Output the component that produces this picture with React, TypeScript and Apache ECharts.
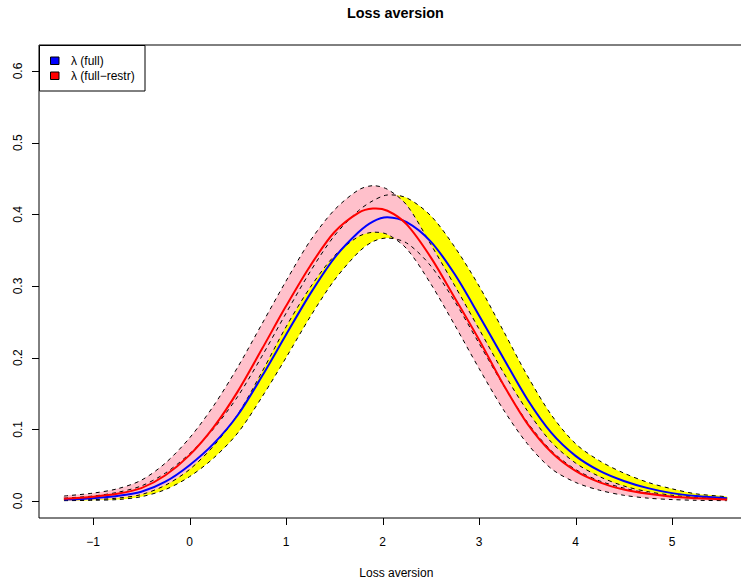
import { useEffect, useRef } from "react";
import * as echarts from "echarts";

// Common x grid (Loss aversion)
const X = [-1.3, -1.0, -0.75, -0.5, -0.25, 0, 0.25, 0.5, 0.75, 1.0, 1.25, 1.5, 1.75, 1.9, 2.05, 2.25, 2.5, 2.75, 3.0, 3.25, 3.5, 3.75, 4.0, 4.25, 4.5, 4.75, 5.0, 5.25, 5.57];

// λ (full) density and its band
const FULL = [0.002, 0.004, 0.007, 0.013, 0.027, 0.050, 0.080, 0.120, 0.174, 0.232, 0.289, 0.339, 0.375, 0.390, 0.396, 0.389, 0.362, 0.316, 0.259, 0.200, 0.142, 0.095, 0.063, 0.042, 0.028, 0.018, 0.011, 0.007, 0.004];
const FULL_UPPER = [0.004, 0.007, 0.012, 0.021, 0.039, 0.066, 0.101, 0.146, 0.202, 0.262, 0.320, 0.370, 0.405, 0.419, 0.427, 0.423, 0.398, 0.354, 0.300, 0.238, 0.175, 0.120, 0.080, 0.056, 0.039, 0.026, 0.017, 0.010, 0.006];
const FULL_LOWER = [0.0005, 0.001, 0.002, 0.006, 0.016, 0.034, 0.060, 0.095, 0.145, 0.200, 0.257, 0.308, 0.347, 0.362, 0.367, 0.360, 0.328, 0.278, 0.220, 0.162, 0.110, 0.070, 0.044, 0.028, 0.018, 0.011, 0.006, 0.004, 0.002];

// λ (full−restr) density and its band
const RESTR = [0.003, 0.006, 0.010, 0.018, 0.036, 0.064, 0.103, 0.153, 0.212, 0.272, 0.328, 0.375, 0.402, 0.408, 0.405, 0.386, 0.340, 0.283, 0.225, 0.163, 0.108, 0.068, 0.042, 0.026, 0.016, 0.010, 0.006, 0.004, 0.002];
const RESTR_UPPER = [0.007, 0.011, 0.017, 0.029, 0.053, 0.088, 0.133, 0.187, 0.247, 0.307, 0.363, 0.406, 0.434, 0.440, 0.435, 0.413, 0.358, 0.300, 0.240, 0.180, 0.126, 0.082, 0.053, 0.034, 0.021, 0.013, 0.008, 0.005, 0.003];
const RESTR_LOWER = [0.001, 0.002, 0.004, 0.009, 0.022, 0.044, 0.077, 0.121, 0.180, 0.243, 0.298, 0.342, 0.369, 0.375, 0.372, 0.352, 0.303, 0.245, 0.185, 0.128, 0.080, 0.045, 0.026, 0.015, 0.008, 0.004, 0.002, 0.001, 0.0005];

// Ticks and tick labels
const X_TICKS = [-1, 0, 1, 2, 3, 4, 5];
const X_TICK_LABELS = ["\u22121", "0", "1", "2", "3", "4", "5"];
const Y_TICKS = [0, 0.1, 0.2, 0.3, 0.4, 0.5, 0.6];
const Y_TICK_LABELS = ["0.0", "0.1", "0.2", "0.3", "0.4", "0.5", "0.6"];

const SERIES_NAMES = ["\u03bb (full)", "\u03bb (full\u2212restr)"];
const TITLE = "Loss aversion";
const X_NAME = "Loss aversion";

const FONT = "'Liberation Sans', Arial, Helvetica, sans-serif";
const SM = 0.3;
const TICK_LEN = 7;

// Plot-region axis limits (R's 4% expanded ranges)
const X_MIN = -1.56;
const X_MAX = 5.845;
const Y_MIN = -0.0237;
const Y_MAX = 0.6363;

const labelFor = (ticks: number[], labels: string[]) => (v: number) => {
  const i = ticks.findIndex((t) => Math.abs(t - v) < 1e-6);
  return i >= 0 ? labels[i] : "";
};

const bandSeries = (name: string, upper: number[], lower: number[], color: string) => ({
  type: "custom",
  name,
  silent: true,
  clip: false,
  data: X.map((x, i) => [x, lower[i], upper[i]]),
  encode: { x: 0, y: [1, 2] },
  renderItem: (params: any, api: any) => {
    if (params.dataIndex !== 0) return null;
    const pts: number[][] = [];
    for (let i = 0; i < X.length; i++) pts.push(api.coord([X[i], upper[i]]));
    for (let i = X.length - 1; i >= 0; i--) pts.push(api.coord([X[i], lower[i]]));
    return {
      type: "polygon",
      shape: { points: pts, smooth: SM },
      style: { fill: color, stroke: null, lineWidth: 0 },
    };
  },
});

const lineSeries = (name: string, ys: number[], color: string, width: number, dash: number[] | null) => ({
  type: "custom",
  name,
  silent: true,
  clip: false,
  data: X.map((x, i) => [x, ys[i]]),
  encode: { x: 0, y: 1 },
  renderItem: (params: any, api: any) => {
    if (params.dataIndex !== 0) return null;
    const pts = X.map((x, i) => api.coord([x, ys[i]]));
    return {
      type: "polyline",
      shape: { points: pts, smooth: SM },
      style: { fill: null, stroke: color, lineWidth: width, lineDash: dash || undefined },
    };
  },
});

// Axis tick marks drawn through the axes' scales (thin filled rects)
const xTickSeries = {
  type: "custom",
  name: "x ticks",
  silent: true,
  clip: false,
  z: 10,
  data: X_TICKS.map((v) => [v, Y_MIN]),
  encode: { x: 0, y: 1 },
  renderItem: (params: any, api: any) => {
    const p = api.coord([api.value(0), api.value(1)]);
    const x = Math.round(p[0]);
    return {
      type: "rect",
      shape: { x: x, y: Math.round(p[1]), width: 1, height: TICK_LEN },
      style: { fill: "#000" },
    };
  },
};

const yTickSeries = {
  type: "custom",
  name: "y ticks",
  silent: true,
  clip: false,
  z: 10,
  data: Y_TICKS.map((v) => [X_MIN, v]),
  encode: { x: 0, y: 1 },
  renderItem: (params: any, api: any) => {
    const p = api.coord([api.value(0), api.value(1)]);
    const y = Math.round(p[1]);
    return {
      type: "rect",
      shape: { x: Math.round(p[0]) - TICK_LEN, y: y, width: TICK_LEN, height: 1 },
      style: { fill: "#000" },
    };
  },
};

export default function App() {
  const ref = useRef<HTMLDivElement>(null);
  useEffect(() => {
    if (!ref.current) return;
    const chart = echarts.init(ref.current, null, { renderer: "svg" });
    const labelStyle = { fontFamily: FONT, fontSize: 12, color: "#000" };

    chart.setOption({
      animation: false,
      backgroundColor: "#fff",
      textStyle: { fontFamily: FONT },
      title: {
        text: TITLE,
        left: 347,
        top: 6,
        padding: 0,
        textStyle: { fontFamily: FONT, fontSize: 14.4, fontWeight: "bold", color: "#000" },
      },
      grid: {
        left: 39,
        top: 45,
        width: 714.6,
        height: 473,
        show: true,
        borderColor: "#000",
        borderWidth: 1,
        backgroundColor: "transparent",
        containLabel: false,
        outerBoundsMode: "none",
      },
      xAxis: {
        type: "value",
        min: X_MIN,
        max: X_MAX,
        name: X_NAME,
        nameLocation: "middle",
        nameGap: 49,
        nameTextStyle: labelStyle,
        axisLine: { show: false, onZero: false },
        splitLine: { show: false },
        axisTick: { show: false },
        axisLabel: {
          ...labelStyle,
          customValues: X_TICKS,
          formatter: labelFor(X_TICKS, X_TICK_LABELS),
          margin: 18,
        },
      },
      yAxis: {
        type: "value",
        min: Y_MIN,
        max: Y_MAX,
        axisLine: { show: false, onZero: false },
        splitLine: { show: false },
        axisTick: { show: false },
        axisLabel: {
          ...labelStyle,
          customValues: Y_TICKS,
          formatter: labelFor(Y_TICKS, Y_TICK_LABELS),
          rotate: 90,
          margin: 15,
        },
      },
      series: [
        bandSeries("full band", FULL_UPPER, FULL_LOWER, "#FFFF00"),
        bandSeries("restr band", RESTR_UPPER, RESTR_LOWER, "#FFC0CB"),
        lineSeries("full upper", FULL_UPPER, "#000", 1, [4, 4]),
        lineSeries("full lower", FULL_LOWER, "#000", 1, [4, 4]),
        lineSeries("restr upper", RESTR_UPPER, "#000", 1, [4, 4]),
        lineSeries("restr lower", RESTR_LOWER, "#000", 1, [4, 4]),
        lineSeries(SERIES_NAMES[0], FULL, "#0000FF", 2, null),
        lineSeries(SERIES_NAMES[1], RESTR, "#FF0000", 2, null),
        xTickSeries,
        yTickSeries,
      ],
      graphic: [
        {
          type: "rect",
          z: 100,
          shape: { x: 39.5, y: 45.5, width: 105.5, height: 45.5 },
          style: { fill: "#fff", stroke: "#000", lineWidth: 1 },
        },
        {
          type: "rect",
          z: 101,
          shape: { x: 50.5, y: 57, width: 8.5, height: 7.5 },
          style: { fill: "#0000FF", stroke: "#000", lineWidth: 1 },
        },
        {
          type: "rect",
          z: 101,
          shape: { x: 50.5, y: 72, width: 8.5, height: 7.5 },
          style: { fill: "#FF0000", stroke: "#000", lineWidth: 1 },
        },
        {
          type: "text",
          z: 101,
          x: 71,
          y: 60.5,
          style: { text: SERIES_NAMES[0], fill: "#000", font: `12px ${FONT}`, verticalAlign: "middle", align: "left" },
        },
        {
          type: "text",
          z: 101,
          x: 71,
          y: 75.5,
          style: { text: SERIES_NAMES[1], fill: "#000", font: `12px ${FONT}`, verticalAlign: "middle", align: "left" },
        },
      ],
    });
    return () => chart.dispose();
  }, []);
  return (
    <div
      ref={ref}
      style={{ position: "fixed", left: 0, top: 0, width: 741, height: 584, background: "#fff" }}
    />
  );
}
